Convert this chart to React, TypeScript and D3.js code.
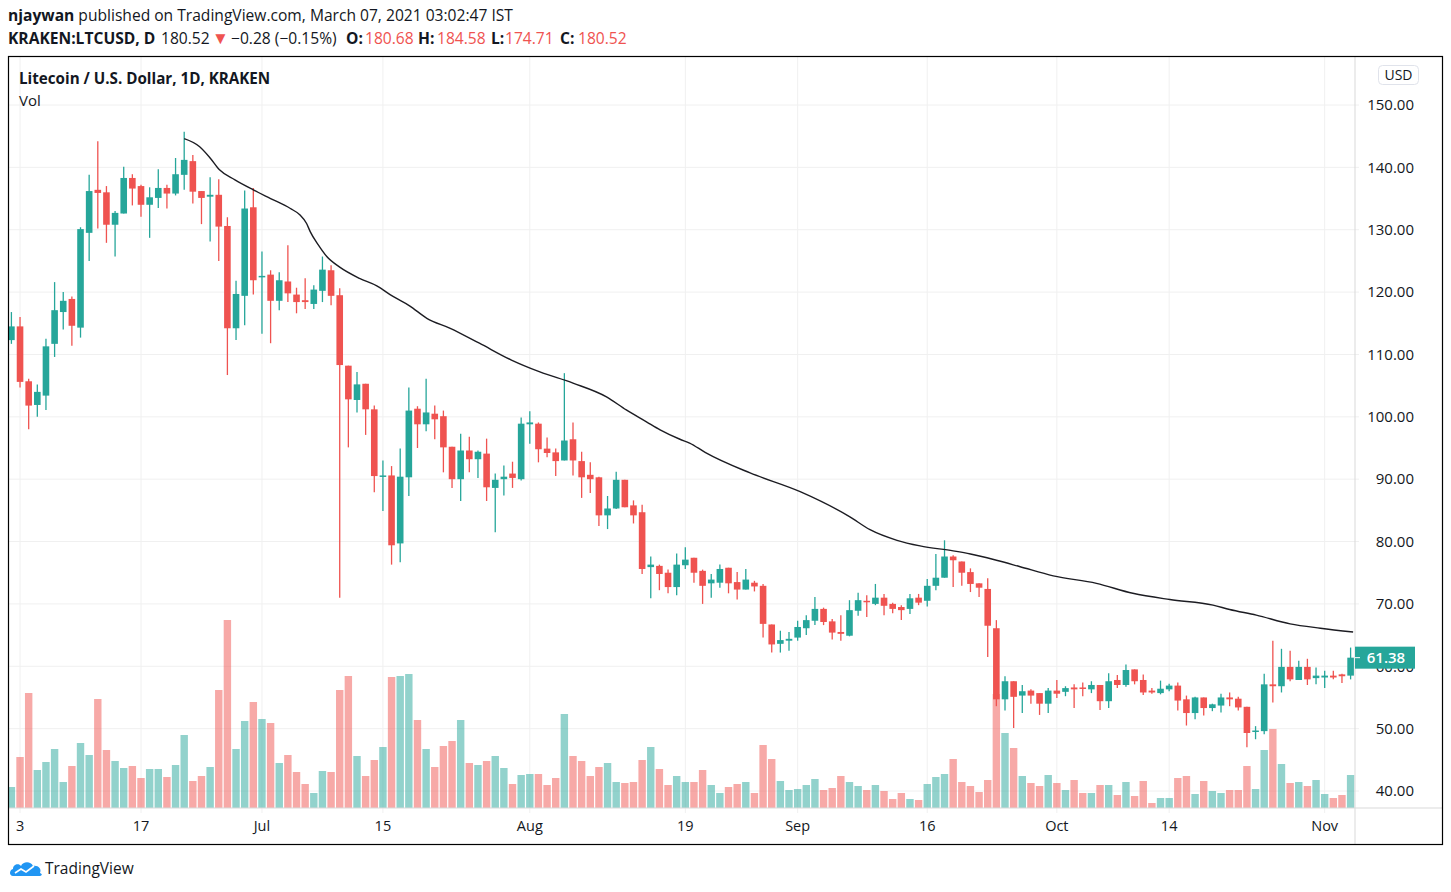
import React from "react";
import * as d3 from "d3";

// daily LTC/USD candles, first bar = 2018-06-02
const startDate = new Date(Date.UTC(2018, 5, 2));

const opens = [
  112.3, 114.5, 105.7, 101.9, 103.4, 111.7, 116.8, 118.9, 114.3, 129.5,
  136.4, 136.0, 130.8, 132.6, 138.3, 137.0, 134.0, 135.1, 136.7, 135.8,
  138.8, 141.0, 136.2, 135.3, 135.6, 130.6, 114.2, 119.4, 133.6, 122.4,
  122.8, 118.6, 121.7, 119.6, 118.7, 118.1, 120.2, 123.5, 119.5, 108.2,
  102.7, 105.3, 101.2, 90.4, 90.6, 79.7, 90.3, 101.3, 98.8, 100.5,
  100.1, 95.2, 90.0, 94.6, 93.2, 94.1, 88.6, 90.0, 90.9, 90.0,
  98.8, 98.9, 94.9, 94.3, 93.0, 96.4, 92.9, 90.7, 90.3, 84.2,
  85.3, 89.9, 85.8, 84.7, 75.9, 76.1, 75.0, 72.7, 76.2, 77.4,
  75.3, 73.3, 73.4, 75.8, 73.5, 72.3, 73.4, 72.9, 66.7, 63.6,
  64.1, 64.6, 66.1, 67.3, 69.2, 67.2, 65.5, 64.9, 68.9, 70.5,
  70.0, 71.0, 70.0, 69.5, 69.2, 71.0, 70.5, 72.9, 74.2, 77.6,
  76.8, 75.1, 73.3, 72.4, 66.1, 54.7, 57.6, 55.3, 56.1, 55.7,
  54.0, 56.1, 55.9, 56.6, 56.6, 56.3, 57.0, 54.4, 57.8, 57.0,
  59.5, 57.8, 56.1, 55.7, 56.3, 56.9, 54.7, 52.5, 55.0, 53.3,
  53.7, 55.0, 54.8, 53.5, 49.6, 49.6, 57.1, 56.8, 59.9, 57.8,
  59.9, 58.1, 58.2, 58.5, 58.7, 58.5,
];
const highs = [
  116.8, 116.0, 106.1, 105.2, 112.5, 121.6, 120.0, 119.3, 130.4, 138.8,
  144.2, 137.0, 133.0, 140.1, 138.9, 137.2, 136.8, 139.7, 137.2, 141.5,
  145.7, 142.0, 136.2, 138.4, 138.1, 132.0, 121.8, 136.3, 136.7, 126.5,
  123.5, 123.2, 127.5, 120.7, 122.2, 121.1, 125.7, 124.3, 120.6, 108.2,
  107.2, 105.3, 101.8, 93.0, 92.1, 94.9, 104.7, 101.7, 106.1, 101.8,
  101.0, 95.2, 97.3, 96.8, 94.6, 96.5, 90.9, 92.2, 92.8, 99.9,
  100.9, 99.1, 96.7, 94.9, 107.0, 99.1, 94.4, 92.7, 90.4, 87.3,
  91.2, 89.9, 86.6, 85.9, 77.6, 76.3, 75.5, 78.1, 79.1, 77.4,
  75.5, 74.8, 76.3, 75.8, 75.1, 75.6, 73.7, 73.2, 66.7, 65.7,
  65.5, 67.3, 68.2, 71.1, 69.4, 67.6, 68.2, 70.6, 71.8, 71.4,
  73.2, 71.6, 70.2, 69.8, 71.6, 71.6, 74.0, 78.0, 80.2, 77.8,
  76.8, 75.7, 73.3, 74.1, 67.4, 58.4, 57.6, 57.0, 56.3, 55.7,
  56.5, 57.8, 56.8, 57.1, 57.4, 57.6, 57.0, 58.9, 58.6, 60.3,
  59.5, 58.7, 56.5, 57.7, 57.2, 57.4, 55.3, 55.1, 55.0, 54.0,
  55.6, 55.8, 55.1, 53.5, 50.4, 58.8, 64.1, 62.8, 62.5, 60.9,
  61.2, 59.8, 59.3, 59.3, 58.8, 63.0,
];
const lows = [
  111.7, 104.7, 98.0, 100.0, 101.1, 109.6, 114.0, 111.4, 112.7, 125.0,
  130.2, 127.9, 125.7, 132.6, 133.9, 132.1, 128.7, 133.5, 133.4, 135.5,
  136.4, 134.2, 130.9, 128.1, 125.0, 106.7, 112.3, 114.7, 119.6, 113.3,
  111.8, 117.1, 118.4, 116.6, 117.3, 117.3, 118.4, 117.9, 71.0, 95.1,
  100.7, 97.1, 87.9, 84.9, 76.3, 76.7, 87.3, 95.0, 97.7, 96.4,
  91.1, 88.6, 86.5, 91.1, 90.2, 86.5, 81.5, 87.4, 88.6, 89.8,
  95.7, 92.7, 93.5, 90.5, 93.0, 90.6, 87.0, 87.8, 82.5, 82.0,
  85.2, 85.5, 82.9, 74.8, 70.9, 72.2, 71.7, 71.4, 75.6, 73.4,
  70.0, 71.0, 72.6, 71.7, 70.7, 72.3, 72.0, 64.6, 62.2, 62.2,
  62.5, 64.1, 65.0, 66.6, 66.6, 64.3, 64.1, 64.8, 68.1, 67.9,
  69.8, 68.2, 68.5, 67.4, 68.4, 69.8, 69.6, 72.2, 74.2, 72.7,
  72.9, 71.9, 71.1, 61.5, 53.6, 52.9, 50.1, 52.5, 54.0, 52.2,
  52.5, 54.9, 55.2, 53.3, 55.2, 55.7, 53.0, 53.3, 56.5, 56.7,
  57.1, 55.4, 55.6, 55.5, 56.0, 52.9, 50.5, 51.5, 52.1, 52.8,
  52.6, 53.6, 52.9, 47.0, 48.3, 49.1, 54.2, 55.8, 57.6, 57.8,
  57.0, 57.1, 56.5, 57.9, 57.3, 57.9,
];
const closes = [
  114.5, 105.6, 101.8, 104.0, 111.3, 117.1, 118.6, 114.6, 130.1, 136.2,
  135.9, 130.8, 132.7, 138.3, 136.6, 134.0, 135.2, 136.7, 135.8, 138.9,
  141.2, 136.1, 135.1, 135.6, 130.5, 114.2, 119.7, 133.4, 121.9, 122.6,
  118.6, 121.9, 119.8, 118.4, 118.4, 120.4, 123.6, 119.4, 108.3, 102.8,
  105.2, 101.2, 90.5, 90.6, 79.4, 90.4, 101.0, 98.8, 100.7, 99.6,
  95.1, 90.0, 94.6, 93.2, 94.4, 88.7, 89.9, 90.4, 90.2, 98.9,
  99.1, 94.8, 94.2, 92.9, 96.2, 93.0, 90.3, 90.0, 84.2, 85.3,
  89.9, 85.5, 84.2, 75.6, 76.3, 74.8, 72.7, 76.3, 77.1, 75.0,
  72.9, 73.9, 75.6, 73.3, 72.3, 73.9, 72.8, 66.8, 63.5, 64.2,
  64.4, 66.3, 67.4, 69.2, 67.1, 65.4, 65.2, 69.0, 70.6, 70.3,
  71.0, 69.7, 69.2, 69.0, 70.9, 70.2, 72.9, 74.2, 77.6, 77.0,
  75.0, 73.2, 72.6, 66.5, 54.7, 57.6, 55.1, 56.0, 55.3, 54.0,
  56.1, 55.6, 56.5, 56.3, 56.5, 57.0, 54.4, 57.6, 57.0, 59.4,
  57.6, 55.8, 55.8, 56.4, 56.9, 54.5, 52.5, 55.0, 53.3, 53.9,
  55.0, 54.7, 53.4, 49.3, 49.7, 57.1, 56.8, 59.9, 57.9, 59.9,
  57.9, 58.5, 58.5, 58.2, 58.4, 61.38,
];
const volumes = [
  21, 51, 115, 38, 46, 59, 26, 42, 65, 53,
  109, 58, 47, 40, 42, 30, 39, 39, 31, 43,
  73, 27, 32, 41, 118, 188, 59, 87, 106, 89,
  85, 45, 53, 36, 24, 15, 37, 36, 118, 132,
  52, 32, 48, 61, 131, 132, 134, 88, 59, 41,
  62, 67, 88, 45, 43, 47, 52, 40, 24, 33,
  34, 34, 23, 30, 94, 52, 47, 32, 41, 45,
  26, 25, 26, 48, 61, 39, 23, 32, 26, 26,
  38, 23, 15, 21, 24, 26, 15, 63, 49, 27,
  18, 19, 23, 29, 18, 20, 32, 26, 22, 18,
  23, 17, 9, 15, 9, 8, 24, 31, 34, 49,
  26, 22, 16, 28, 114, 75, 60, 32, 25, 22,
  33, 25, 18, 28, 15, 15, 23, 23, 13, 26,
  12, 27, 5, 10, 10, 30, 32, 14, 27, 17,
  15, 18, 18, 42, 19, 58, 79, 44, 25, 26,
  22, 28, 14, 10, 13, 33,
];

// moving average line, read at a few bars
const maIndex = [
  20, 21.8, 23, 24.1, 25.9, 28, 30, 32.3, 33.4, 34.2, 34.6, 35.5, 36.5, 38,
  40.3, 42.3, 44.2, 46.1, 48.1, 50.8, 54.2, 57.9, 61.2, 65, 68.9, 71.2, 73.5,
  75.1, 77.4, 78.5, 80.3, 85.5, 91.3, 97, 99.4, 102.5, 105.2, 109, 111, 114,
  116.7, 120.6, 125.6, 129.8, 134.1, 139.1, 141, 144.1, 148, 151.5, 155.3,
];
const maValue = [
  144.6, 143.3, 141.5, 139.6, 138.0, 136.4, 135.0, 133.4, 132.4, 131.0, 129.7,
  127.6, 125.7, 124.0, 122.2, 121.0, 119.3, 117.8, 115.8, 114.2, 111.8, 109.1,
  107.2, 105.4, 103.2, 101.1, 99.2, 97.9, 96.4, 95.8, 94.3, 91.0, 88.0, 84.0,
  81.9, 80.2, 79.3, 78.5, 78.0, 77.0, 76.0, 74.5, 73.3, 71.7, 70.7, 69.8, 69.1,
  68.2, 66.8, 66.1, 65.5,
];

const priceTicks = [150, 140, 130, 120, 110, 100, 90, 80, 70, 60, 50, 40];
const timeTickDates = [
  [5, 3], [5, 17], [6, 1], [6, 15], [7, 1], [7, 19], [8, 1], [8, 16], [9, 1], [9, 14], [10, 1],
];
const timeTickLabels = ["3", "17", "Jul", "15", "Aug", "19", "Sep", "16", "Oct", "14", "Nov"];

const UP = "#26a69a";
const DOWN = "#ef5350";
const TXT = "#131722";
const FONT = "'Open Sans', 'Noto Sans', sans-serif";

const App: React.FC = () => {
  const W = 1451,
    H = 892;
  const left = 9,
    right = 1355,
    top = 57,
    bottom = 808;

  const dates = opens.map((_, i) => d3.utcDay.offset(startDate, i));
  const x = d3
    .scaleUtc()
    .domain([dates[0], dates[dates.length - 1]])
    .range([11.4, 11.4 + 155 * 8.64]);
  const y = d3.scaleLinear().domain([40, 150]).range([791, 105]);
  const vy = d3.scaleLinear().domain([0, 188]).range([bottom, bottom - 188]);
  const xi = (i: number) => x(d3.utcHour.offset(startDate, i * 24));

  const tickDates = timeTickDates.map(([m, d]) => new Date(Date.UTC(2018, m, d)));
  const maLine = d3
    .line<number>()
    .x((_, i) => xi(maIndex[i]))
    .y((v) => y(v))
    .curve(d3.curveMonotoneX);

  const last = closes[closes.length - 1];
  const bodyW = 6.6;
  const volW = 7.4;

  return (
    <div style={{ position: "fixed", left: 0, top: 0, width: W, height: H, background: "#fff" }}>
      <svg width={W} height={H} style={{ display: "block", fontFamily: FONT }}>
        <rect width={W} height={H} fill="#fff" />
        {/* header */}
        <text x={8} y={21} fontSize={15.6} fill={TXT}>
          <tspan fontWeight="bold">njaywan</tspan>
          <tspan> published on TradingView.com, March 07, 2021 03:02:47 IST</tspan>
        </text>
        <text y={44} fontSize={15.6} fill={TXT}>
          <tspan x={8} fontWeight="bold">KRAKEN:LTCUSD, D</tspan>
          <tspan x={161}>180.52</tspan>
          <tspan x={212} fill={DOWN} fontSize={17}>▼</tspan>
          <tspan x={231}>−0.28 (−0.15%)</tspan>
          <tspan x={346} fontWeight="bold">O:</tspan>
          <tspan x={365} fill={DOWN}>180.68</tspan>
          <tspan x={418} fontWeight="bold">H:</tspan>
          <tspan x={437} fill={DOWN}>184.58</tspan>
          <tspan x={491} fontWeight="bold">L:</tspan>
          <tspan x={505} fill={DOWN}>174.71</tspan>
          <tspan x={560} fontWeight="bold">C:</tspan>
          <tspan x={578} fill={DOWN}>180.52</tspan>
        </text>

        <defs>
          <clipPath id="plot">
            <rect x={left} y={top} width={right - left} height={bottom - top} />
          </clipPath>
        </defs>

        {/* grid */}
        {priceTicks.map((p) => (
          <line key={"h" + p} x1={left} x2={right + 4} y1={y(p)} y2={y(p)} stroke="#f0f0f0" />
        ))}
        {tickDates.map((d, i) => (
          <line key={"v" + i} x1={x(d)} x2={x(d)} y1={top} y2={bottom + 5} stroke="#f0f0f0" />
        ))}

        <g clipPath="url(#plot)">
          {/* volume */}
          {volumes.map((v, i) => (
            <rect
              key={"vol" + i}
              x={x(dates[i]) - volW / 2}
              y={vy(v)}
              width={volW}
              height={bottom - vy(v)}
              fill={closes[i] >= opens[i] ? UP : DOWN}
              fillOpacity={0.5}
            />
          ))}
          {/* candles */}
          {opens.map((o, i) => {
            const c = closes[i];
            const col = c >= o ? UP : DOWN;
            const cx = x(dates[i]);
            const y0 = y(Math.max(o, c));
            const h = Math.max(1.5, Math.abs(y(o) - y(c)));
            return (
              <g key={"c" + i}>
                <line x1={cx} x2={cx} y1={y(highs[i])} y2={y(lows[i])} stroke={col} strokeWidth={1.3} />
                <rect x={cx - bodyW / 2} y={y0} width={bodyW} height={h} fill={col} />
              </g>
            );
          })}
          <path d={maLine(maValue) ?? ""} fill="none" stroke="#1c1c22" strokeWidth={1.4} />
        </g>

        {/* axes separators */}
        <line x1={right} x2={right} y1={top} y2={845} stroke="#d9d9d9" />
        <line x1={left} x2={1443} y1={bottom} y2={bottom} stroke="#d9d9d9" />

        {/* price labels (60.00 sits under the last-price tag, as in the original) */}
        {priceTicks.map((p) => (
          <text key={"pl" + p} x={1414} y={y(p)} dy="0.35em" textAnchor="end" fontSize={15} fill={TXT}>
            {p.toFixed(2)}
          </text>
        ))}
        <rect x={right} y={y(last) - 11} width={60} height={22} fill={UP} />
        <line x1={right} x2={right + 5} y1={y(last)} y2={y(last)} stroke="#fff" />
        <text x={1386} y={y(last)} dy="0.36em" textAnchor="middle" fontSize={15} fontWeight="600" fill="#fff">
          {last.toFixed(2)}
        </text>

        {/* time labels */}
        {tickDates.map((d, i) => (
          <text key={"tl" + i} x={x(d)} y={831} textAnchor="middle" fontSize={14.5} fill={TXT}>
            {timeTickLabels[i]}
          </text>
        ))}

        {/* legend */}
        <text x={19} y={84} fontSize={15.2} fontWeight="bold" fill={TXT}>
          Litecoin / U.S. Dollar, 1D, KRAKEN
        </text>
        <text x={19} y={106} fontSize={15} fill={TXT}>
          Vol
        </text>

        {/* USD box */}
        <rect x={1378.5} y={65.5} width={40} height={19} rx={4} fill="#fff" stroke="#e0e3eb" />
        <text x={1398.5} y={75} dy="0.36em" textAnchor="middle" fontSize={14} fill={TXT}>
          USD
        </text>

        {/* frame */}
        <rect x={8.5} y={56.5} width={1434} height={788} fill="none" stroke="#000" strokeWidth={1.2} />

        {/* logo */}
        <g transform="translate(9,858)">
          <path
            d="M4,18 C0,18 0,12 4,11 C4,6 10,5 12,8 C14,3 22,3 24,8 C29,7 33,11 31,15 C34,16 33,18 30,18 Z"
            fill="#2196f3"
          />
          <path d="M6,15 L12,11 L17,14 L25,8" fill="none" stroke="#fff" strokeWidth={1.6} />
        </g>
        <text x={45} y={874} fontSize={15.5} fill={TXT}>
          TradingView
        </text>
      </svg>
    </div>
  );
};

export default App;
